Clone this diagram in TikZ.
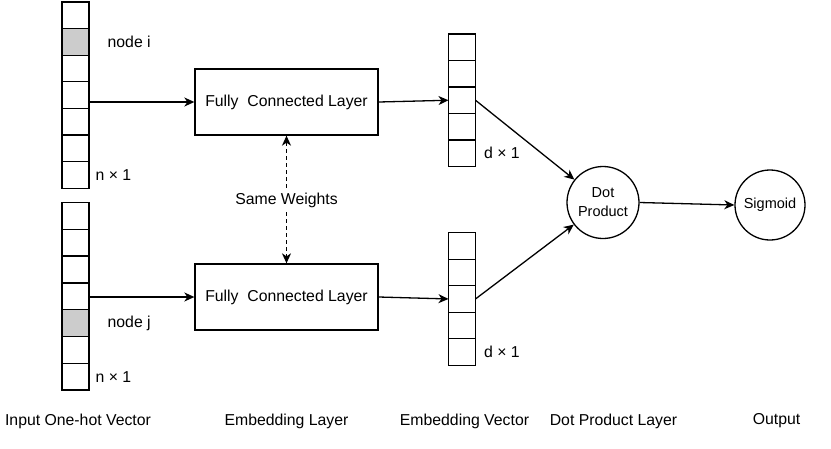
\documentclass[tikz,border=0pt]{standalone}
\usepackage{fontspec}
\setmainfont{Liberation Sans}
\usetikzlibrary{arrows.meta,calc}
\begin{document}
\begin{tikzpicture}[x=1pt,y=-1pt,
  font=\fontsize{15.8}{18}\selectfont,
  line width=1.3pt,
  cellbox/.style={draw,minimum width=27pt,minimum height=#1,inner sep=0pt,outer sep=0pt},
  hotcell/.style={fill=black!20},
  layerbox/.style={draw,minimum width=183pt,minimum height=66pt,inner sep=0pt},
  circ/.style={draw,circle,inner sep=0pt,align=center,font=\fontsize{14.5}{19}\selectfont},
  arr/.style={-{Stealth[length=10pt,width=9pt,inset=3pt]}},
  darr/.style={{Stealth[length=10pt,width=9pt,inset=3pt]}-{Stealth[length=10pt,width=9pt,inset=3pt]},dash pattern=on 4pt off 3pt},
  lbl/.style={inner sep=0pt,anchor=west},
  captext/.style={inner sep=0pt}
]
\useasboundingbox (0,0) rectangle (831,448);
% input vector 1
\foreach \i in {1,...,7}{
  \node[cellbox=26.6pt] (a\i) at (75.5,{2+26.6*(\i-0.5)}) {};
}
\node[cellbox=26.6pt,hotcell] at (a2) {};
% input vector 2
\foreach \i in {1,...,7}{
  \node[cellbox=26.8pt] (b\i) at (75.5,{202.5+26.8*(\i-0.5)}) {};
}
\node[cellbox=26.8pt,hotcell] at (b5) {};
% embedding vectors
\foreach \i in {1,...,5}{
  \node[cellbox=26.5pt] (e\i) at (462,{34+26.5*(\i-0.5)}) {};
  \node[cellbox=26.5pt] (f\i) at (462,{232.7+26.5*(\i-0.5)}) {};
}
% labels near vectors
\node[lbl] (li) at ($(a2.east)+(18,0)$) {node i};
\node[lbl] (ln1) at ($(a7.east)+(6,0)$) {n × 1};
\node[lbl] (lj) at ($(b5.east)+(18,0)$) {node j};
\node[lbl] (ln2) at ($(b7.east)+(6,0)$) {n × 1};
\node[lbl] (ld1) at ($(e5.east)+(8,0)$) {d × 1};
\node[lbl] (ld2) at ($(f5.east)+(8,0)$) {d × 1};
% layers
\node[layerbox] (fc1) at (286.5,102) {Fully\ \ Connected Layer};
\node[layerbox] (fc2) at (286.5,297) {Fully\ \ Connected Layer};
% circles
\node[circ,minimum size=72pt] (dot) at (603,202.5) {Dot\\Product};
\node[circ,minimum size=70pt] (sig) at (770,205) {Sigmoid};
% connectors
\draw[arr] (a4.east |- fc1.west) -- (fc1.west);
\draw[arr] (b4.east |- fc2.west) -- (fc2.west);
\draw[arr] (fc1.east) -- (e3.west);
\draw[arr] (fc2.east) -- (f3.west);
\draw[arr] (e3.east) -- (dot);
\draw[arr] (f3.east) -- (dot);
\draw[arr] (dot.east) -- (sig.west);
\draw[darr] (fc1.south) -- (fc2.north);
\node[fill=white,inner sep=2pt] (sw) at (286.5,200) {Same Weights};
% bottom captions
\node[captext] (c1) at (78,421) {Input One-hot Vector};
\node[captext] (c2) at (286.5,421) {Embedding Layer};
\node[captext] (c3) at (464.5,421) {Embedding Vector};
\node[captext] (c4) at (613.5,421) {Dot Product Layer};
\node[captext] (c5) at (776.5,421) {Output};
\end{tikzpicture}
\end{document}
